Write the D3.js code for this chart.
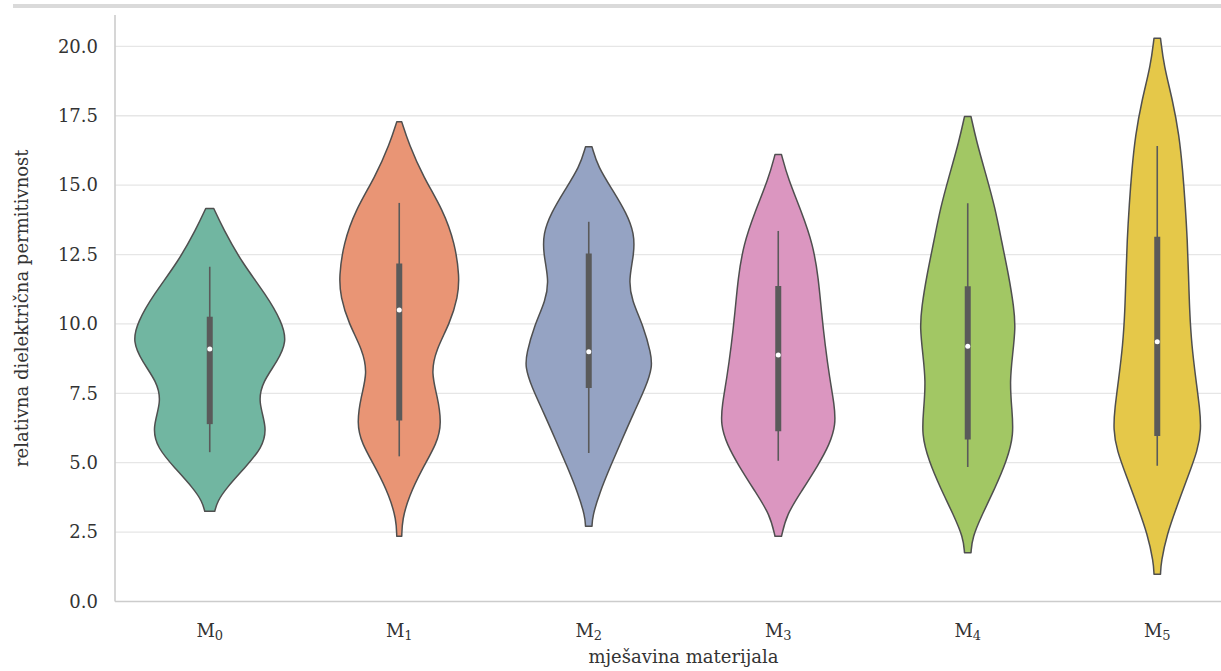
<!DOCTYPE html>
<html><head><meta charset="utf-8">
<script src="https://cdn.jsdelivr.net/npm/d3@7"></script>
<style>
body{margin:0;background:#fff;}
svg{display:block;font-family:"DejaVu Serif",serif;}
</style>
</head><body>
<svg id="chart" width="1221" height="671"></svg>
<script>
// ---- data ----
const categories = ["M0","M1","M2","M3","M4","M5"];
const catSubscripts = ["0","1","2","3","4","5"];
const yTicks = [0, 2.5, 5, 7.5, 10, 12.5, 15, 17.5, 20];
const xTitle = "mješavina materijala";
const yTitle = "relativna dielektrična permitivnost";

// violin density profiles: [value, relative density]
const profileM0 = [[14.16,.053],[13.44,.175],[12.24,.417],[11.04,.746],[10.08,.95],[9.36,1.02],[8.64,.89],[7.92,.70],[7.21,.635],[6.25,.76],[5.53,.69],[4.81,.461],[4.09,.22],[3.61,.101],[3.25,.066]];
const profileM1 = [[17.28,.033],[16.5,.125],[15.3,.316],[14.1,.579],[12.9,.735],[11.7,.795],[10.98,.775],[10.02,.668],[9.06,.483],[8.23,.42],[7.39,.504],[6.43,.56],[5.71,.50],[4.75,.296],[3.79,.128],[2.95,.039],[2.35,.033]];
const profileM2 = [[16.38,.043],[15.66,.121],[14.82,.316],[13.98,.5],[13.26,.60],[12.54,.60],[11.58,.525],[10.86,.566],[9.9,.724],[8.94,.82],[8.46,.84],[7.74,.755],[6.79,.592],[5.83,.438],[4.87,.286],[3.91,.142],[3.07,.049],[2.71,.043]];
const profileM3 = [[16.1,.043],[15.24,.128],[14.04,.307],[12.84,.461],[11.64,.530],[10.44,.570],[9.24,.618],[8.05,.678],[7.09,.74],[6.37,.76],[5.65,.675],[4.93,.530],[3.97,.307],[3.13,.109],[2.35,.043]];
const profileM4 = [[17.47,.043],[16.57,.116],[15.37,.241],[14.17,.362],[12.97,.447],[11.77,.539],[10.58,.61],[9.86,.63],[8.9,.592],[7.94,.555],[6.98,.579],[6.02,.61],[5.06,.513],[4.1,.362],[3.14,.191],[2.3,.059],[1.76,.043]];
const profileM5 = [[20.29,.043],[19.31,.087],[18.05,.204],[16.79,.289],[15.53,.336],[14.27,.370],[13.01,.397],[11.75,.413],[10.49,.426],[9.23,.454],[7.97,.511],[6.97,.56],[6.21,.58],[5.45,.535],[4.45,.397],[3.44,.261],[2.43,.129],[1.42,.05],[0.98,.043]];
const profiles = [profileM0, profileM1, profileM2, profileM3, profileM4, profileM5];

// box statistics
const whiskerLow  = [5.38, 5.23, 5.35, 5.07, 4.85, 4.89];
const q1          = [6.39, 6.52, 7.69, 6.13, 5.84, 5.96];
const median      = [9.10, 10.50, 9.00, 8.88, 9.20, 9.36];
const q3          = [10.26, 12.18, 12.54, 11.37, 11.36, 13.14];
const whiskerHigh = [12.06, 14.36, 13.68, 13.35, 14.35, 16.41];

// ---- style ----
const palette = ["#71b6a1","#e99575","#95a3c3","#db96c0","#a2c764","#e5c849"];
const lineColor = "#4f4f4f";
const boxColor = "#5a5a5a";
const textColor = "#333333";

const svg = d3.select("#chart");
const mLeft = 115, mRight = 1252, mTop = 15, mBottom = 601.5;

const x = d3.scaleBand().domain(categories).range([mLeft, mRight]).padding(0);
const y = d3.scaleLinear().domain([0, 21.13]).range([mBottom, mTop]);
const w = d3.scaleLinear().domain([0, 1]).range([0, x.bandwidth() * 0.4]);

// top border bar
svg.append("rect").attr("x", 13).attr("y", 4).attr("width", 1221 - 13).attr("height", 4).attr("fill", "#dadada");

// gridlines
svg.append("g").selectAll("line").data(yTicks.filter(d => d > 0)).join("line")
  .attr("x1", mLeft).attr("x2", mRight)
  .attr("y1", d => y(d)).attr("y2", d => y(d))
  .attr("stroke", "#e6e6e6").attr("stroke-width", 1.3);

// y axis
const yAxis = d3.axisLeft(y).tickValues(yTicks).tickFormat(d3.format(".1f")).tickSize(0).tickPadding(17);
const gy = svg.append("g").attr("transform", `translate(${mLeft},0)`).call(yAxis);
gy.select(".domain").remove();
gy.selectAll("text").attr("fill", textColor).style("font-size", "18px").style("font-family", "DejaVu Serif");

// x axis
const xAxis = d3.axisBottom(x).tickSize(0).tickFormat(() => "");
const gx = svg.append("g").attr("transform", `translate(0,${mBottom})`).call(xAxis);
gx.select(".domain").remove();
gx.selectAll(".tick").each(function(d, i) {
  const t = d3.select(this).append("text").attr("y", 35).attr("text-anchor", "middle")
    .attr("fill", textColor).style("font-size", "18px").style("font-family", "DejaVu Serif");
  t.append("tspan").text("M");
  t.append("tspan").attr("dy", 3).style("font-size", "13px").text(catSubscripts[i]);
});

// spines
svg.append("line").attr("x1", mLeft).attr("x2", mLeft).attr("y1", mTop).attr("y2", mBottom)
  .attr("stroke", "#cccccc").attr("stroke-width", 1.6);
svg.append("line").attr("x1", mLeft).attr("x2", mRight).attr("y1", mBottom).attr("y2", mBottom)
  .attr("stroke", "#cccccc").attr("stroke-width", 1.6);

// violins
categories.forEach((c, i) => {
  const cx = x(c) + x.bandwidth() / 2;
  const area = d3.area()
    .y(d => y(d[0]))
    .x0(d => cx - w(d[1]))
    .x1(d => cx + w(d[1]))
    .curve(d3.curveBasis);
  svg.append("path").datum(profiles[i]).attr("d", area)
    .attr("fill", palette[i]).attr("stroke", lineColor).attr("stroke-width", 1.5).attr("stroke-linejoin", "round");
  svg.append("line").attr("x1", cx).attr("x2", cx)
    .attr("y1", y(whiskerLow[i])).attr("y2", y(whiskerHigh[i]))
    .attr("stroke", boxColor).attr("stroke-width", 1.6);
  svg.append("line").attr("x1", cx).attr("x2", cx)
    .attr("y1", y(q1[i])).attr("y2", y(q3[i]))
    .attr("stroke", boxColor).attr("stroke-width", 6);
  svg.append("circle").attr("cx", cx).attr("cy", y(median[i])).attr("r", 2.5).attr("fill", "#ffffff");
});

// titles
svg.append("text").attr("x", (mLeft + mRight) / 2).attr("y", 663).attr("text-anchor", "middle")
  .attr("fill", textColor).style("font-size", "18px").text(xTitle);
svg.append("text").attr("transform", `translate(28,${(mTop + mBottom) / 2}) rotate(-90)`).attr("text-anchor", "middle")
  .attr("fill", textColor).style("font-size", "18px").text(yTitle);
</script>
</body></html>
